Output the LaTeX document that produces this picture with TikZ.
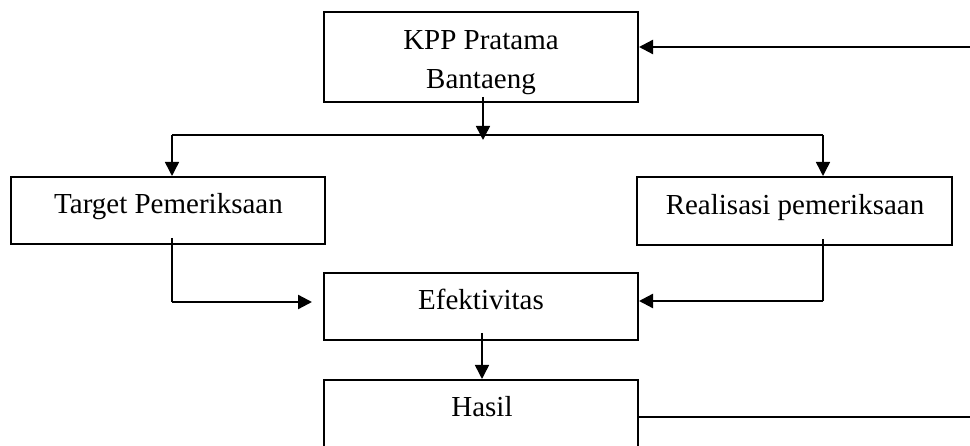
\documentclass[tikz,border=0pt]{standalone}
\usepackage{fontspec}
\setmainfont{Liberation Serif}
\usetikzlibrary{arrows.meta}
\begin{document}
\begin{tikzpicture}[x=1pt,y=-1pt,
  box/.style={draw=black, line width=2pt, rectangle, inner sep=0pt},
  lbl/.style={anchor=base, inner sep=0pt, font=\fontsize{29}{35}\selectfont},
  thinline/.style={draw=black, line width=1.3pt},
  arr/.style={draw=black, line width=2.3pt, -{Triangle[length=14pt,width=14pt]}},
  arrthin/.style={draw=black, line width=1.5pt, -{Triangle[length=14pt,width=14pt]}}]
\clip (0,0) rectangle (970,446);
\fill[white] (0,0) rectangle (970,446);
% boxes
\node[box, minimum width=314pt, minimum height=90pt] (kpp) at (481,57) {};
\node[box, minimum width=314pt, minimum height=67pt] (target) at (168,210.5) {};
\node[box, minimum width=315pt, minimum height=68pt] (real) at (794.5,211) {};
\node[box, minimum width=314pt, minimum height=67pt] (efek) at (481,306.5) {};
\node[box, minimum width=314pt, minimum height=100pt] (hasil) at (481,430) {};
% labels
\node[lbl] (t1) at (481,50) {KPP Pratama};
\node[lbl] (t2) at (481,89) {Bantaeng};
\node[lbl] (t3) at (168.5,214) {Target Pemeriksaan};
\node[lbl] (t4) at (795,215) {Realisasi pemeriksaan};
\node[lbl] (t5) at (481,310) {Efektivitas};
\node[lbl] (t6) at (482,417) {Hasil};
% coordinates
\coordinate (inR) at (970,47);
\coordinate (kppdown) at (483,97);
\coordinate (split) at (483,140);
\coordinate (hl) at (172,135);
\coordinate (hr) at (823,135);
\coordinate (tb) at (172,238);
\coordinate (tc) at (172,302);
\coordinate (rb) at (823,239);
\coordinate (rc) at (823,301);
\coordinate (ed) at (482,333);
\coordinate (outR) at (970,417);
% connectors
\draw[arr] (inR) -- (kpp.east |- inR);
\draw[arrthin] (kppdown) -- (split);
\draw[thinline] (hl) -- (hr);
\draw[arrthin] (hl) -- (hl |- target.north);
\draw[arrthin] (hr) -- (hr |- real.north);
\draw[thinline] (tb) -- (tc);
\draw[arr, shorten >=11pt] (tc) -- (efek.west |- tc);
\draw[thinline] (rb) -- (rc);
\draw[arr] (rc) -- (efek.east |- rc);
\draw[arrthin] (ed) -- (ed |- hasil.north);
\draw[thinline] (hasil.east |- outR) -- (outR);
\end{tikzpicture}
\end{document}
